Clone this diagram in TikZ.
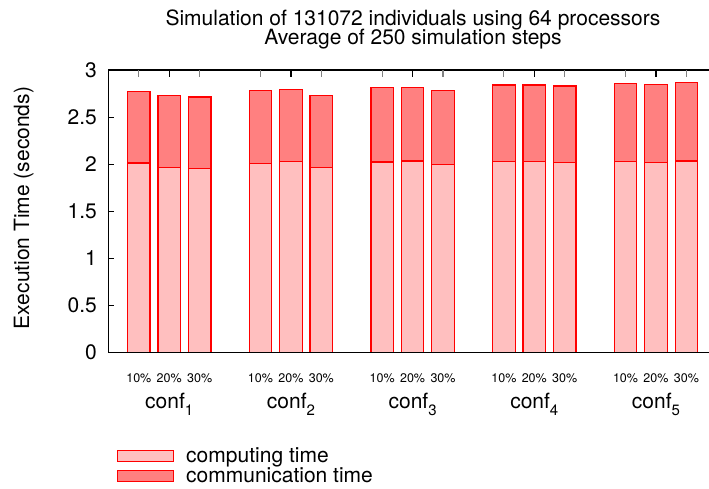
\documentclass[tikz,border=0pt]{standalone}
\usepackage{fontspec}
\setmainfont{TeX Gyre Heros}
\definecolor{compfill}{HTML}{FFBFBF}
\definecolor{commfill}{HTML}{FF8080}
\begin{document}
\begin{tikzpicture}[x=1pt,y=1pt,
  bigtext/.style={font=\fontsize{21}{19}\selectfont, inner sep=0pt},
  pcttext/.style={font=\fontsize{12.5}{12.5}\selectfont, inner sep=0pt},
  barpart/.style={draw=red, line width=1.2pt},
  axisline/.style={line width=1.2pt, black},
  keybox/.style={draw=red, line width=1.1pt, minimum width=56pt, minimum height=10.5pt, inner sep=0pt, anchor=south west},
]
\useasboundingbox (0,0) rectangle (709,489);

% title
\node[bigtext, anchor=base] (title1) at (413,463) {Simulation of 131072 individuals using 64 processors};
\node[bigtext, anchor=base] (title2) at (413,444) {Average of 250 simulation steps};

% y axis label
\node[bigtext, rotate=90, anchor=base] (ylab) at (29,281) {Execution Time (seconds)};

% plot area: one x unit per bar slot, one y unit per second
\begin{scope}[shift={(108.4,136.3)}, x=30.42pt, y=94.23pt]
  % stacked bars: slot / computing time / total time
  \foreach \k/\comp/\tot in {1/2.013/2.774, 2/1.968/2.732, 3/1.953/2.714,
                             5/2.006/2.780, 6/2.031/2.795, 7/1.968/2.727,
                             9/2.024/2.817, 10/2.034/2.817, 11/1.995/2.785,
                             13/2.031/2.841, 14/2.027/2.841, 15/2.021/2.830,
                             17/2.027/2.855, 18/2.016/2.844, 19/2.034/2.865} {
    \draw[barpart, fill=commfill] (\k-0.37,\comp) rectangle (\k+0.37,\tot);
    \draw[barpart, fill=compfill] (\k-0.37,0) rectangle (\k+0.37,\comp);
  }

  % frame
  \draw[axisline] (19.75,3) -- (0,3) -- (0,0) -- (19.75,0);

  % y ticks and labels
  \foreach \v/\lab [count=\i] in {0/0, 0.5/0.5, 1/1, 1.5/1.5, 2/2, 2.5/2.5, 3/3} {
    \draw[axisline] (0,\v) -- ++(6pt,0);
    \node[bigtext, anchor=base east] (ytick\i) at ([xshift=-11.4pt,yshift=-7.2pt]0,\v) {\lab};
  }

  % top ticks: grey at every bar, black at every group centre
  \foreach \k in {1,2,3,5,6,7,9,10,11,13,14,15,17,18,19}
    \draw[line width=1.2pt, gray] (\k,3) -- ++(0,-6.7pt);
  \foreach \k in {2,6,10,14,18}
    \draw[axisline] (\k,3) -- ++(0,-6.7pt);

  % percentage labels under each bar
  \foreach \g in {0,4,8,12,16} {
    \node[pcttext, anchor=base] (pa\g) at ([yshift=-30.3pt]\g+1,0) {10\%};
    \node[pcttext, anchor=base] (pb\g) at ([yshift=-30.3pt]\g+2,0) {20\%};
    \node[pcttext, anchor=base] (pc\g) at ([yshift=-30.3pt]\g+3,0) {30\%};
  }

  % configuration labels
  \foreach \n in {1,...,5}
    \node[bigtext, anchor=base] (conf\n) at ([yshift=-56.3pt]4*\n-2,0)
      {conf\raisebox{-6.5pt}{\fontsize{15}{15}\selectfont\n}};
\end{scope}

% legend
\node[keybox, fill=compfill] (keycomp) at (116.5,27.3) {};
\node[keybox, fill=commfill] (keycomm) at (116.5,7.2) {};
\node[bigtext, anchor=base west] (labcomp) at (186,26.3) {computing time};
\node[bigtext, anchor=base west] (labcomm) at (186,6.3) {communication time};
\end{tikzpicture}
\end{document}
